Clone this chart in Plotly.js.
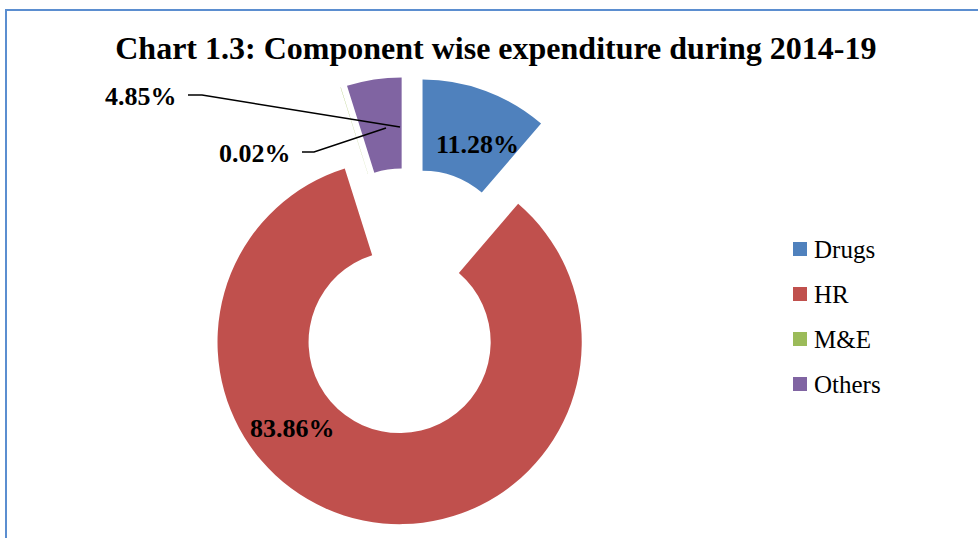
<!DOCTYPE html>
<html>
<head>
<meta charset="utf-8">
<script src="https://cdn.plot.ly/plotly-3.0.1.min.js"></script>
<style>html,body{margin:0;padding:0;background:#fff;}#chart{width:978px;height:538px;}</style>
</head>
<body>
<div id="chart"></div>
<script>
// Data
const categories = ["Drugs", "HR", "M&E", "Others"];
const percentValues = [11.28, 83.86, 0.02, 4.85];
const sliceColors = ["#4F81BD", "#C0504D", "#9BBB59", "#8064A2"];

const W = 978, H = 538;
const px = x => x / W;
const py = y => 1 - y / H;

const labelText = percentValues.map(v => v.toFixed(2) + "%");

const trace = {
  type: "pie",
  labels: categories,
  values: percentValues,
  marker: { colors: sliceColors, line: { width: 0 } },
  hole: 0.5,
  sort: false,
  direction: "clockwise",
  rotation: 0,
  pull: [0.23, 0.23, 0.23, 0.23],
  textinfo: "none",
  hoverinfo: "label+percent",
  showlegend: false,
  domain: { x: [px(184), px(632)], y: [py(525), py(77)] }
};

// data-label placement (layout only)
const labelPos = [
  { x: 477, y: 144 },  // Drugs
  { x: 292, y: 428 },  // HR
  { x: 255, y: 154 },  // M&E
  { x: 141, y: 97 }    // Others
];
const annotations = labelText.map((t, i) => ({
  text: t,
  xref: "paper", yref: "paper",
  x: px(labelPos[i].x), y: py(labelPos[i].y),
  xanchor: "center", yanchor: "middle",
  showarrow: false,
  font: { family: "Liberation Serif", size: 26, color: "#000", weight: "bold" }
}));

// legend (built from categories / colours)
const legendX = 793, legendY0 = 249, legendStep = 45, sq = 14;
categories.forEach((c, i) => {
  annotations.push({
    text: c,
    xref: "paper", yref: "paper",
    x: px(legendX + sq + 5), y: py(legendY0 + i * legendStep),
    xanchor: "left", yanchor: "middle",
    showarrow: false,
    font: { family: "Liberation Serif", size: 25, color: "#000" }
  });
});

const lineStyle = { color: "#000", width: 1.5 };
const shapes = [
  // chart frame (left and top edges visible)
  { type: "rect", xref: "paper", yref: "paper",
    x0: px(6), x1: 1.05, y0: -0.05, y1: py(10),
    line: { color: "#5B8ED0", width: 2 }, fillcolor: "rgba(0,0,0,0)" },
  // leader line for Others
  { type: "path", xref: "paper", yref: "paper",
    path: `M ${px(188)} ${py(95)} L ${px(202)} ${py(95)} L ${px(400)} ${py(127)}`,
    line: lineStyle },
  // leader line for M&E
  { type: "path", xref: "paper", yref: "paper",
    path: `M ${px(302)} ${py(152)} L ${px(314)} ${py(152)} L ${px(386)} ${py(128)}`,
    line: lineStyle }
];
categories.forEach((c, i) => {
  const yc = legendY0 + i * legendStep;
  shapes.push({
    type: "rect", xref: "paper", yref: "paper",
    x0: px(legendX), x1: px(legendX + sq),
    y0: py(yc + sq / 2), y1: py(yc - sq / 2),
    fillcolor: sliceColors[i], line: { width: 0 }
  });
});

const layout = {
  width: W, height: H,
  margin: { l: 0, r: 0, t: 0, b: 0 },
  paper_bgcolor: "#fff",
  title: {
    text: "Chart 1.3: Component wise expenditure during 2014-19",
    font: { family: "Liberation Serif", size: 32, color: "#000", weight: "bold" },
    x: 0.507, xanchor: "center",
    y: py(48), yanchor: "middle",
    xref: "paper", yref: "container"
  },
  showlegend: false,
  annotations: annotations,
  shapes: shapes
};

Plotly.newPlot("chart", [trace], layout, { displayModeBar: false, staticPlot: true });
</script>
</body>
</html>
